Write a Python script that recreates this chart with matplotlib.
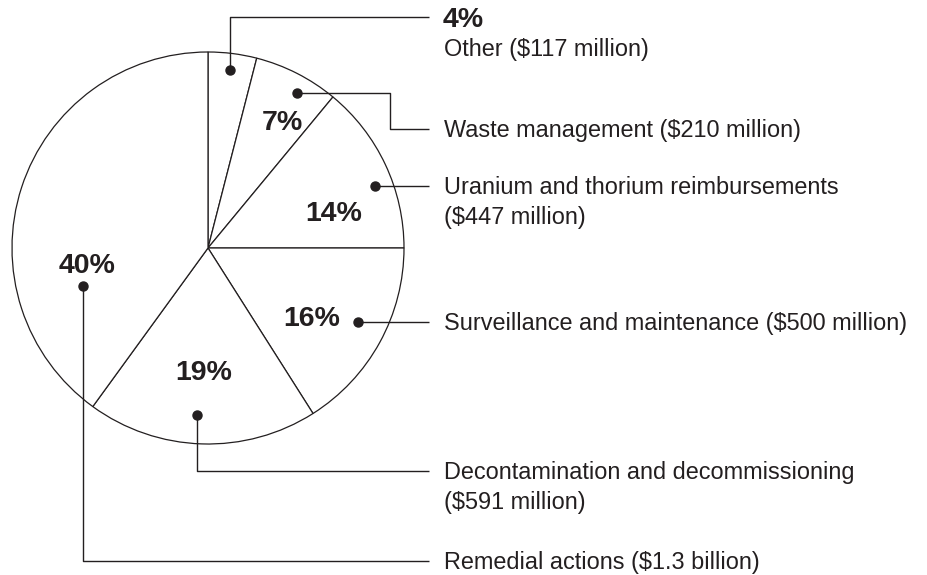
import matplotlib
matplotlib.use("Agg")
import matplotlib.pyplot as plt

plt.rcParams['font.family'] = ['Liberation Sans', 'DejaVu Sans']

# data, clockwise from 12 o'clock
shares = [4, 7, 14, 16, 19, 40]
names = ["Other", "Waste management", "Uranium and thorium reimbursements",
         "Surveillance and maintenance", "Decontamination and decommissioning",
         "Remedial actions"]
amounts = ["$117 million", "$210 million", "$447 million",
           "$500 million", "$591 million", "$1.3 billion"]

INK = '#231f20'
W, H = 928, 575
cx, cy, R = 208, 248, 196

fig = plt.figure(figsize=(W / 100, H / 100), dpi=100)
ax = fig.add_axes([0, 0, 1, 1])

# y axis is inverted (pixel-like), so start at -90 and go "counterclock" = clockwise on screen
ax.pie(shares, startangle=-90, counterclock=True, center=(cx, cy), radius=R,
       wedgeprops=dict(facecolor='white', edgecolor=INK, linewidth=0.9))
ax.set_xlim(0, W)
ax.set_ylim(H, 0)
ax.set_aspect('equal')
ax.axis('off')

# layout: percent label position (left x, baseline y), leader path, label line y
pct_pos = [(443, 27), (262, 130), (305, 221), (283, 326), (175, 380), (59, 273)]
leaders = [
    [(230, 70), (230, 17), (429, 17)],
    [(297, 93), (390, 93), (390, 129), (429, 129)],
    [(375, 186), (429, 186)],
    [(358, 322), (429, 322)],
    [(197, 415), (197, 471), (429, 471)],
    [(83, 286), (83, 561), (429, 561)],
]
label_y = [48, 129, 186, 322, 471, 561]
two_line = [False, False, True, False, True, False]

tx = 444
fs = 16.9
cap = 8.4  # half cap height in px for the label font
for i in range(len(shares)):
    px, py = pct_pos[i]
    ax.text(px, py, f"{shares[i]}%", fontsize=20.5, fontweight='bold', color=INK,
            ha='left', va='baseline')
    xs = [p[0] for p in leaders[i]]
    ys = [p[1] for p in leaders[i]]
    ax.plot(xs, ys, color=INK, lw=1.0, solid_capstyle='butt')
    ax.plot(xs[0], ys[0], 'o', color=INK, ms=6.5)
    if two_line[i]:
        ax.text(tx, label_y[i] + cap, names[i], fontsize=fs, color=INK,
                ha='left', va='baseline')
        ax.text(tx, label_y[i] + 30 + cap, f"({amounts[i]})", fontsize=fs,
                color=INK, ha='left', va='baseline')
    else:
        ax.text(tx, label_y[i] + cap, f"{names[i]} ({amounts[i]})", fontsize=fs,
                color=INK, ha='left', va='baseline')

fig.savefig("out.png", dpi=100, facecolor='white')
